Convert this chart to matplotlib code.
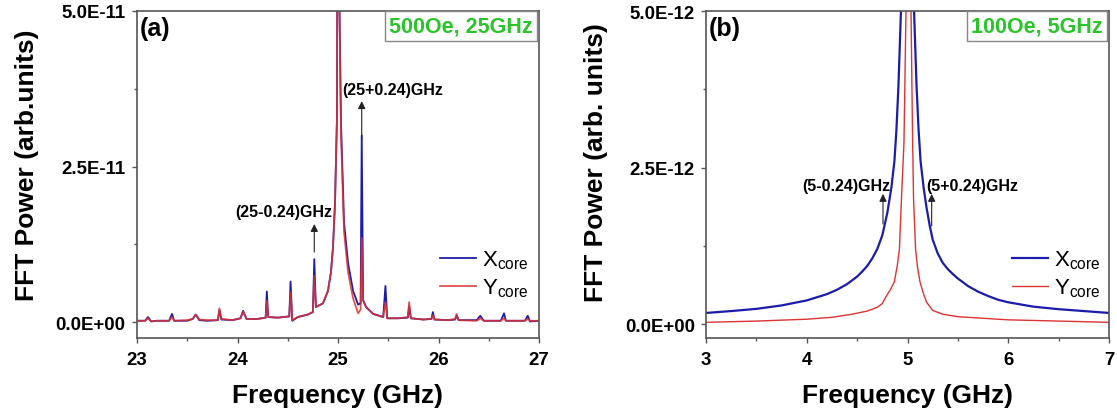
import matplotlib
matplotlib.use("Agg")
import matplotlib.pyplot as plt
from matplotlib.ticker import FixedLocator, FixedFormatter, MultipleLocator

plt.rcParams['font.family'] = ['Liberation Sans', 'DejaVu Sans']
plt.rcParams['mathtext.fontset'] = 'custom'
plt.rcParams['mathtext.rm'] = 'Liberation Sans'
plt.rcParams['mathtext.it'] = 'Liberation Sans:italic'
plt.rcParams['mathtext.bf'] = 'Liberation Sans:bold'

# ---------------- data ----------------
# Panel (a): 500 Oe, 25 GHz   (values in units of 1e-11)
scale_a = 1e-11
freq_a = [23.00, 23.08, 23.11, 23.14, 23.20, 23.32, 23.348, 23.37, 23.50, 23.555,
          23.584, 23.62, 23.70, 23.805, 23.82, 23.84, 23.95, 24.03, 24.056, 24.09,
          24.20, 24.28, 24.292, 24.305, 24.40, 24.515, 24.528, 24.545, 24.60, 24.70,
          24.75, 24.764, 24.78, 24.85, 24.90, 24.93, 24.95, 24.97, 24.99, 25.00,
          25.015, 25.03, 25.06, 25.10, 25.15, 25.20, 25.225, 25.236, 25.25, 25.28,
          25.35, 25.45, 25.472, 25.49, 25.60, 25.695, 25.708, 25.725, 25.85, 25.93,
          25.944, 25.96, 26.10, 26.165, 26.18, 26.20, 26.38, 26.416, 26.45, 26.62,
          26.652, 26.67, 26.86, 26.888, 26.91, 27.00]
xcore_a = [0.02, 0.02, 0.08, 0.01, 0.02, 0.02, 0.13, 0.02, 0.02, 0.05,
           0.12, 0.03, 0.02, 0.03, 0.19, 0.04, 0.03, 0.06, 0.18, 0.05,
           0.05, 0.07, 0.49, 0.08, 0.07, 0.09, 0.65, 0.02, 0.08, 0.12,
           0.16, 1.01, 0.24, 0.30, 0.50, 0.80, 1.20, 1.90, 3.30, 12.0,
           5.00, 3.20, 1.60, 0.95, 0.50, 0.28, 0.30, 3.00, 0.35, 0.24,
           0.13, 0.08, 0.58, 0.06, 0.06, 0.07, 0.25, 0.06, 0.04, 0.05,
           0.16, 0.04, 0.03, 0.04, 0.10, 0.03, 0.03, 0.10, 0.02, 0.02,
           0.14, 0.02, 0.02, 0.10, 0.01, 0.02]
ycore_a = [0.02, 0.02, 0.06, 0.01, 0.02, 0.02, 0.08, 0.02, 0.03, 0.05,
           0.12, 0.04, 0.03, 0.03, 0.22, 0.05, 0.03, 0.06, 0.17, 0.05,
           0.05, 0.07, 0.34, 0.08, 0.07, 0.09, 0.48, 0.03, 0.08, 0.12,
           0.16, 0.74, 0.24, 0.30, 0.50, 0.80, 1.20, 1.90, 3.30, 12.0,
           5.00, 3.00, 1.45, 0.80, 0.38, 0.14, 0.20, 1.35, 0.35, 0.24,
           0.13, 0.08, 0.32, 0.06, 0.06, 0.08, 0.32, 0.06, 0.04, 0.05,
           0.11, 0.04, 0.03, 0.05, 0.13, 0.03, 0.02, 0.06, 0.02, 0.02,
           0.06, 0.02, 0.02, 0.05, 0.02, 0.02]

# Panel (b): 100 Oe, 5 GHz   (values in units of 1e-12)
scale_b = 1e-12
freq_bx = [3.0, 3.25, 3.5, 3.75, 4.0, 4.1, 4.2, 4.3, 4.4, 4.5, 4.55, 4.6, 4.65,
           4.7, 4.75, 4.8, 4.84, 4.87, 4.89, 4.91, 4.935, 4.96, 5.0,
           5.04, 5.065, 5.09, 5.11, 5.13, 5.16, 5.19, 5.22, 5.25, 5.3, 5.35,
           5.4, 5.45, 5.5, 5.6, 5.7, 5.8, 5.9, 6.0, 6.25, 6.5, 6.75, 7.0]
xcore_b = [0.18, 0.21, 0.245, 0.30, 0.38, 0.43, 0.48, 0.55, 0.64, 0.76, 0.84, 0.93, 1.05,
           1.20, 1.42, 1.78, 2.18, 2.60, 3.10, 3.80, 5.00, 7.00, 12.0,
           7.00, 5.00, 3.80, 3.10, 2.60, 2.18, 1.85, 1.58, 1.35, 1.13, 0.98,
           0.88, 0.80, 0.73, 0.61, 0.52, 0.45, 0.39, 0.35, 0.28, 0.24, 0.21, 0.18]
freq_by = [3.0, 3.5, 4.0, 4.25, 4.45, 4.6, 4.7, 4.75, 4.79, 4.83, 4.87, 4.9, 4.92,
           4.94, 4.965, 4.985, 5.01, 5.035, 5.05, 5.06, 5.08, 5.10, 5.125, 5.16,
           5.19, 5.25, 5.35, 5.5, 5.6, 6.0, 6.5, 7.0]
ycore_b = [0.03, 0.05, 0.08, 0.11, 0.16, 0.21, 0.27, 0.33, 0.45, 0.55, 0.68, 0.95, 1.20,
           2.00, 2.90, 5.00, 15.0, 5.00, 3.00, 2.00, 1.20, 0.90, 0.67, 0.48,
           0.35, 0.22, 0.16, 0.12, 0.11, 0.07, 0.05, 0.03]

xticks_a = [23, 24, 25, 26, 27]
xticks_b = [3, 4, 5, 6, 7]
yticks_a = [0, 2.5e-11, 5e-11]
ytick_labels_a = ['0.0E+00', '2.5E-11', '5.0E-11']
yticks_b = [0, 2.5e-12, 5e-12]
ytick_labels_b = ['0.0E+00', '2.5E-12', '5.0E-12']

series_names = ['X$_{\\mathrm{core}}$', 'Y$_{\\mathrm{core}}$']
panel_tags = ['(a)', '(b)']
conditions = ['500Oe, 25GHz', '100Oe, 5GHz']
ylabels = ['FFT Power (arb.units)', 'FFT Power (arb. units)']
xlabel = 'Frequency (GHz)'
ann_a = [('(25-0.24)GHz', 24.764, 1.125, 1.575, 24.458, 1.77),
         ('(25+0.24)GHz', 25.236, 2.94, 3.55, 25.54, 3.73)]
ann_b = [('(5-0.24)GHz', 4.757, 1.60, 2.08, 4.39, 2.22),
         ('(5+0.24)GHz', 5.24, 1.57, 2.08, 5.64, 2.22)]

# ---------------- figure ----------------
BLUE = '#1c1caa'
RED = '#dd3333'
GREEN = '#2bc42b'
SPINE = '#555555'

fig = plt.figure(figsize=(11.17, 4.14), dpi=100)
ax_a = fig.add_axes([137/1117, 1-339/414, 402/1117, 327/414])
ax_b = fig.add_axes([706/1117, 1-339/414, 403/1117, 327/414])


def style(ax, xticks, yticks, ylabels_txt, ylim, xlim, ylab, ylab_y):
    ax.set_xlim(*xlim)
    ax.set_ylim(*ylim)
    ax.xaxis.set_major_locator(FixedLocator(xticks))
    ax.xaxis.set_minor_locator(MultipleLocator(0.5))
    ax.yaxis.set_major_locator(FixedLocator(yticks))
    ax.yaxis.set_major_formatter(FixedFormatter(ylabels_txt))
    ax.yaxis.set_minor_locator(FixedLocator([yticks[1] / 2, yticks[1] * 1.5]))
    for s in ax.spines.values():
        s.set_color(SPINE)
        s.set_linewidth(1.2)
    ax.tick_params(which='major', direction='out', length=3.6, width=1.0,
                   color=SPINE, labelsize=13.4, pad=4.5)
    ax.tick_params(which='minor', direction='out', length=2.0, width=1.0,
                   color=SPINE)
    ax.tick_params(axis='x', which='major', pad=6)
    for lab in ax.get_xticklabels() + ax.get_yticklabels():
        lab.set_fontweight('bold')
    ax.set_xlabel(xlabel, fontsize=19, fontweight='bold', va='center')
    ax.xaxis.set_label_coords(0.5, -0.175)
    ax.set_ylabel(ylab, fontsize=19, fontweight='bold', va='center')
    ax.yaxis.set_label_coords(-0.274, ylab_y)


def decorate(ax, tag, cond, anns, leg_x):
    ax.text(0.006, 0.985, tag, transform=ax.transAxes, ha='left', va='top',
            fontsize=18, fontweight='bold')
    ax.text(0.984, 0.987, cond, transform=ax.transAxes, ha='right', va='top',
            fontsize=15.5, fontweight='bold', color=GREEN,
            bbox=dict(boxstyle='square,pad=0.2', fc='white', ec='#888888', lw=1.0))
    for txt, fx, y0, y1, tx, ty in anns:
        ax.annotate('', xy=(fx, y1), xytext=(fx, y0),
                    arrowprops=dict(arrowstyle='-|>', color='#222222', lw=0.8,
                                    mutation_scale=11, shrinkA=0, shrinkB=0))
        ax.text(tx, ty, txt, ha='center', va='center', fontsize=11.5,
                fontweight='bold')
    leg = ax.legend(loc='center right', bbox_to_anchor=(leg_x, 0.196),
                    frameon=False, fontsize=16, handlelength=1.6,
                    handletextpad=0.25, labelspacing=0.25, borderpad=0,
                    borderaxespad=0)
    return leg


# panel (a)
ax_a.plot(freq_a, [v * scale_a for v in xcore_a], color=BLUE, lw=1.3, label=series_names[0])
ax_a.plot(freq_a, [v * scale_a for v in ycore_a], color=RED, lw=1.3, alpha=0.85,
          label=series_names[1])
style(ax_a, xticks_a, yticks_a, ytick_labels_a, (-0.257e-11, 5e-11), (23, 27),
      ylabels[0], 0.53)
decorate(ax_a, panel_tags[0], conditions[0],
         [(t, fx, y0 * scale_a, y1 * scale_a, tx, ty * scale_a)
          for t, fx, y0, y1, tx, ty in ann_a], 0.973)

# panel (b)
ax_b.plot(freq_bx, [v * scale_b for v in xcore_b], color=BLUE, lw=1.6, label=series_names[0])
ax_b.plot(freq_by, [v * scale_b for v in ycore_b], color=RED, lw=1.0, label=series_names[1])
style(ax_b, xticks_b, yticks_b, ytick_labels_b, (-0.22e-12, 5e-12), (3, 7),
      ylabels[1], 0.54)
decorate(ax_b, panel_tags[1], conditions[1],
         [(t, fx, y0 * scale_b, y1 * scale_b, tx, ty * scale_b)
          for t, fx, y0, y1, tx, ty in ann_b], 0.978)

fig.savefig('out.png', dpi=100)
